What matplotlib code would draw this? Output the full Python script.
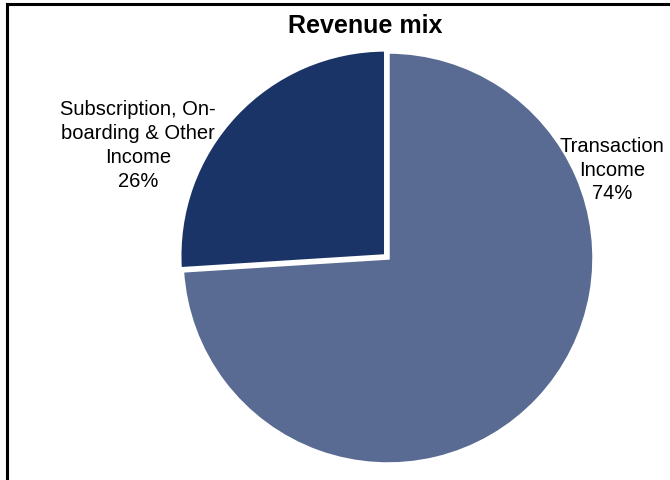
import matplotlib.pyplot as plt
from matplotlib.lines import Line2D

plt.rcParams['font.family'] = ['Liberation Sans', 'DejaVu Sans']

labels = ["Transaction\nIncome", "Subscription, On-\nboarding & Other\nIncome"]
shares = [74, 26]
colors = ["#596b93", "#1b3467"]

W, H = 670, 481
fig = plt.figure(figsize=(W / 100, H / 100), dpi=100)

# pie radius 206 px, centred at (388, 259) from top-left
r = 206
cx, cy = 388, H - 259
half = 1.5 * r
ax = fig.add_axes([(cx - half) / W, (cy - half) / H, 2 * half / W, 2 * half / H])

wedges, texts = ax.pie(shares, colors=colors, startangle=90, counterclock=False,
                       explode=[0, 0.015], labels=[f"{l}\n{s}%" for l, s in zip(labels, shares)],
                       wedgeprops=dict(edgecolor="white", linewidth=2.5),
                       textprops=dict(fontsize=14.5, ha="center", va="center", linespacing=1.33))
ax.set_xlim(-1.5, 1.5)
ax.set_ylim(-1.5, 1.5)
ax.set_aspect("equal")

texts[0].set_position((1.087, 0.432))
texts[1].set_position((-1.214, 0.553))
for t in texts:
    t.set_ha("center")

fig.text(365 / W, 1 - 26 / H, "Revenue mix", ha="center", va="center",
         fontsize=18, fontweight="bold")

# outer frame (left and top edges visible)
fig.add_artist(Line2D([7 / W, 7 / W], [0, 1 - 5 / H], color="black", linewidth=2.2,
                      transform=fig.transFigure))
fig.add_artist(Line2D([7 / W, 1], [1 - 5 / H, 1 - 5 / H], color="black", linewidth=2.2,
                      transform=fig.transFigure))

fig.savefig("out.png", dpi=100)
